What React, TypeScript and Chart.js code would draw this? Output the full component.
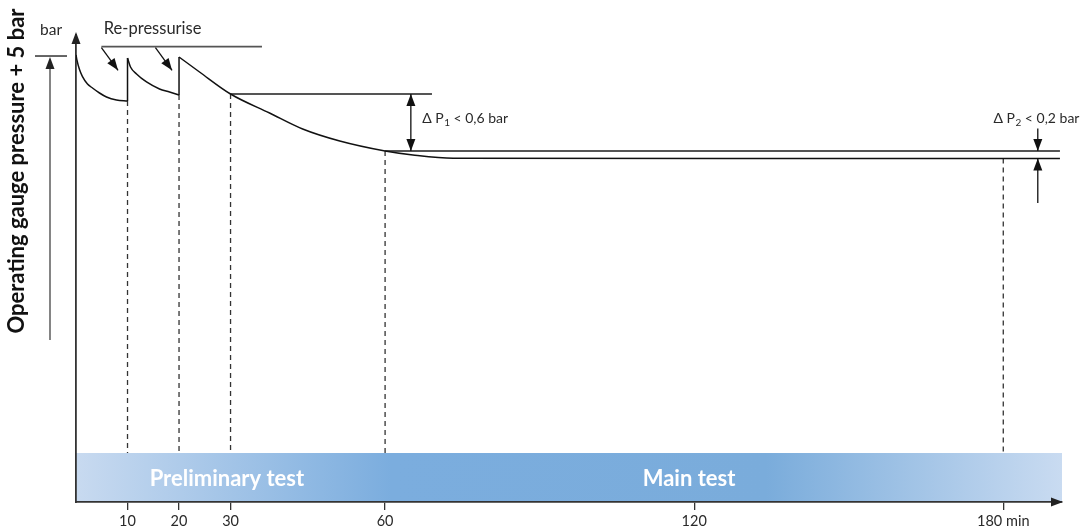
import React, { useEffect, useRef } from 'react';
import { Chart, registerables } from 'chart.js';

Chart.register(...registerables);

// ---- data (minutes, relative pressure units) ----
const X_MAX = 191.4;
const Y_MAX = 10;

const seg1X = [0, 0.15, 0.68, 1.26, 2.23, 3.2, 4.56, 5.92, 7.86, 10];
const seg1Y = [9.572, 9.48, 9.26, 9.11, 8.951, 8.865, 8.758, 8.672, 8.608, 8.587];
const seg2X = [10, 10.58, 11.75, 13.69, 16.21, 18.16, 20];
const seg2Y = [9.507, 9.315, 9.165, 8.994, 8.844, 8.779, 8.715];
const seg3X = [20, 23.98, 30, 37.57, 44.0, 51.2, 60, 65.4, 73.2, 191];
const seg3Y = [9.529, 9.208, 8.737, 8.33, 7.987, 7.73, 7.516, 7.43, 7.36, 7.355];

const jumpX = [10, 20];
const jumpLow = [8.587, 8.715];
const jumpHigh = [9.507, 9.529];

const dashX = [10, 20, 30, 60, 180];
const dashTop = [8.587, 8.715, 8.737, 7.516, 7.355];
const BAND_TOP = 1.049;

const repLineX = [4.93, 36.1];
const repLineY = 9.75;
const dp1TopX = [30, 69.1];
const dp1TopY = 8.737;
const dp1BotX = [60, 191];
const dp1BotY = 7.516;

const tickValues = [10, 20, 30, 60, 120, 180];
const tickLabels = ['10', '20', '30', '60', '120', '180 min'];

const arrows = [
  { x1: 4.93, y1: 9.729, x2: 8.16, y2: 9.244, both: false },
  { x1: 15.42, y1: 9.729, x2: 18.64, y2: 9.244, both: false },
  { x1: 65, y1: 8.737, x2: 65, y2: 7.516, both: true },
  { x1: 186.7, y1: 8.0, x2: 186.7, y2: 7.516, both: false },
  { x1: 186.7, y1: 6.403, x2: 186.7, y2: 7.355, both: false },
];

const LEVEL_5BAR = 9.55;
const LEFT_ARROW_BOTTOM = 3.469;

const bandLabels = [
  { x: 29.3, text: 'Preliminary test' },
  { x: 119, text: 'Main test' },
];

const FONT = 'Lato, "Open Sans", sans-serif';

function pts(xs: number[], ys: number[] | number) {
  return xs.map((x, i) => ({ x, y: Array.isArray(ys) ? ys[i] : ys }));
}

function head(ctx: CanvasRenderingContext2D, x1: number, y1: number, x2: number, y2: number, len = 12, half = 4.5) {
  const a = Math.atan2(y2 - y1, x2 - x1);
  ctx.beginPath();
  ctx.moveTo(x2, y2);
  ctx.lineTo(x2 - len * Math.cos(a) + half * Math.sin(a), y2 - len * Math.sin(a) - half * Math.cos(a));
  ctx.lineTo(x2 - len * Math.cos(a) - half * Math.sin(a), y2 - len * Math.sin(a) + half * Math.cos(a));
  ctx.closePath();
  ctx.fill();
}

function drawDelta(ctx: CanvasRenderingContext2D, x: number, y: number, sub: string, rest: string) {
  ctx.textAlign = 'left';
  ctx.textBaseline = 'alphabetic';
  ctx.font = `14px ${FONT}`;
  let cx = x;
  ctx.fillText('\u0394 P', cx, y);
  cx += ctx.measureText('\u0394 P').width + 0.5;
  ctx.font = `10px ${FONT}`;
  ctx.fillText(sub, cx, y + 3);
  cx += ctx.measureText(sub).width;
  ctx.font = `14px ${FONT}`;
  ctx.fillText(rest, cx, y);
}

const decor = {
  id: 'decor',
  beforeDraw(chart: any) {
    const { ctx } = chart;
    const xs = chart.scales.x;
    const ys = chart.scales.y;
    const l = xs.getPixelForValue(0);
    const r = xs.getPixelForValue(X_MAX);
    const t = ys.getPixelForValue(BAND_TOP);
    const b = ys.getPixelForValue(0);
    const g = ctx.createLinearGradient(l, 0, r, 0);
    g.addColorStop(0, '#c8daf0');
    g.addColorStop(0.32, '#7badde');
    g.addColorStop(0.7, '#7aacdb');
    g.addColorStop(1, '#c9dbf1');
    ctx.save();
    ctx.fillStyle = g;
    ctx.fillRect(l, t, r - l, b - t);
    ctx.fillStyle = '#ffffff';
    ctx.font = `bold 22px ${FONT}`;
    ctx.textAlign = 'center';
    ctx.textBaseline = 'middle';
    const my = (t + b) / 2 + 1;
    bandLabels.forEach((bl) => ctx.fillText(bl.text, xs.getPixelForValue(bl.x), my));
    ctx.restore();
  },
  afterDraw(chart: any) {
    const { ctx, chartArea } = chart;
    const xs = chart.scales.x;
    const ys = chart.scales.y;
    const X = (v: number) => xs.getPixelForValue(v);
    const Y = (v: number) => ys.getPixelForValue(v);
    ctx.save();
    // axis arrow heads
    ctx.fillStyle = '#222';
    head(ctx, chartArea.left, chartArea.top + 20, chartArea.left, chartArea.top - 3, 12, 4.5);
    head(ctx, chartArea.right - 20, chartArea.bottom, chartArea.right + 1, chartArea.bottom, 12, 4.5);

    // annotation arrows
    ctx.strokeStyle = '#111';
    ctx.fillStyle = '#111';
    ctx.lineWidth = 1.3;
    arrows.forEach((a) => {
      const x1 = X(a.x1), y1 = Y(a.y1), x2 = X(a.x2), y2 = Y(a.y2);
      ctx.beginPath();
      ctx.moveTo(x1, y1);
      ctx.lineTo(x2, y2);
      ctx.stroke();
      head(ctx, x1, y1, x2, y2);
      if (a.both) head(ctx, x2, y2, x1, y1);
    });

    // 5 bar level marker left of the axis
    const lvl = Y(LEVEL_5BAR);
    ctx.strokeStyle = '#333';
    ctx.lineWidth = 1.5;
    ctx.beginPath();
    ctx.moveTo(chartArea.left - 41, lvl);
    ctx.lineTo(chartArea.left - 9, lvl);
    ctx.stroke();
    ctx.lineWidth = 1.2;
    ctx.beginPath();
    ctx.moveTo(chartArea.left - 26, Y(LEFT_ARROW_BOTTOM));
    ctx.lineTo(chartArea.left - 26, lvl + 8);
    ctx.stroke();
    ctx.fillStyle = '#222';
    head(ctx, chartArea.left - 26, lvl + 30, chartArea.left - 26, lvl + 1, 12, 4.5);

    // texts
    ctx.fillStyle = '#2a2a2a';
    ctx.textAlign = 'left';
    ctx.textBaseline = 'alphabetic';
    ctx.font = `15.5px ${FONT}`;
    ctx.fillText('bar', 40, 35);
    ctx.font = `16.5px ${FONT}`;
    ctx.fillText('Re-pressurise', X(5.4), 34);

    drawDelta(ctx, X(67.2), 123, '1', ' < 0,6 bar');
    drawDelta(ctx, X(178.1), 123, '2', ' < 0,2 bar');

    // y title
    ctx.save();
    ctx.translate(17, 171);
    ctx.rotate(-Math.PI / 2);
    ctx.textAlign = 'center';
    ctx.textBaseline = 'middle';
    ctx.fillStyle = '#111';
    ctx.font = `bold 22px ${FONT}`;
    ctx.fillText('Operating gauge pressure + 5 bar', 0, 0);
    ctx.restore();
    ctx.restore();
  },
};

export default function App() {
  const ref = useRef<HTMLCanvasElement | null>(null);
  useEffect(() => {
    if (!ref.current) return;
    const curve = (d: any[]) => ({
      data: d,
      borderColor: '#111',
      borderWidth: 1.5,
      pointRadius: 0,
      cubicInterpolationMode: 'monotone' as const,
      fill: false,
    });
    const straight = (d: any[], color: string, width: number, dash: number[] = []) => ({
      data: d,
      borderColor: color,
      borderWidth: width,
      borderDash: dash,
      pointRadius: 0,
      tension: 0,
      fill: false,
    });
    const datasets: any[] = [
      curve(pts(seg1X, seg1Y)),
      curve(pts(seg2X, seg2Y)),
      curve(pts(seg3X, seg3Y)),
      ...jumpX.map((x, i) => straight([{ x, y: jumpLow[i] }, { x, y: jumpHigh[i] }], '#111', 1.5)),
      ...dashX.map((x, i) => straight([{ x, y: dashTop[i] }, { x, y: BAND_TOP }], '#333', 1.3, [5, 4])),
      straight(pts(repLineX, repLineY), '#555', 1.8),
      straight(pts(dp1TopX, dp1TopY), '#555', 1.8),
      straight(pts(dp1BotX, dp1BotY), '#555', 1.8),
    ];
    const chart = new Chart(ref.current, {
      type: 'line',
      data: { datasets },
      options: {
        animation: false,
        responsive: false,
        devicePixelRatio: 1,
        layout: { padding: { top: 35, right: 20, left: 0, bottom: 0 } },
        plugins: { legend: { display: false }, tooltip: { enabled: false } },
        scales: {
          x: {
            type: 'linear',
            min: 0,
            max: X_MAX,
            afterBuildTicks: (s: any) => {
              s.ticks = tickValues.map((v) => ({ value: v }));
            },
            afterFit: (s: any) => {
              s.height = 27;
              s.paddingLeft = 0;
              s.paddingRight = 0;
            },
            grid: { drawOnChartArea: false, drawTicks: true, tickLength: 8, color: '#333', lineWidth: 1.3 },
            border: { display: true, color: '#333', width: 1.8 },
            ticks: {
              autoSkip: false,
              maxRotation: 0,
              padding: 3,
              color: '#2a2a2a',
              font: { family: FONT, size: 14.5 },
              callback: (v: any) => {
                const i = tickValues.indexOf(Number(v));
                return i >= 0 ? tickLabels[i] : '';
              },
            },
          },
          y: {
            type: 'linear',
            min: 0,
            max: Y_MAX,
            afterFit: (s: any) => {
              s.width = 76;
            },
            grid: { display: false },
            border: { display: true, color: '#333', width: 1.8 },
            ticks: { display: false },
          },
        },
      },
      plugins: [decor],
    });
    return () => chart.destroy();
  }, []);
  return (
    <div style={{ position: 'fixed', left: 0, top: 0, width: 1082, height: 529, background: '#fff' }}>
      <canvas ref={ref} width={1082} height={529} style={{ display: 'block' }} />
    </div>
  );
}
